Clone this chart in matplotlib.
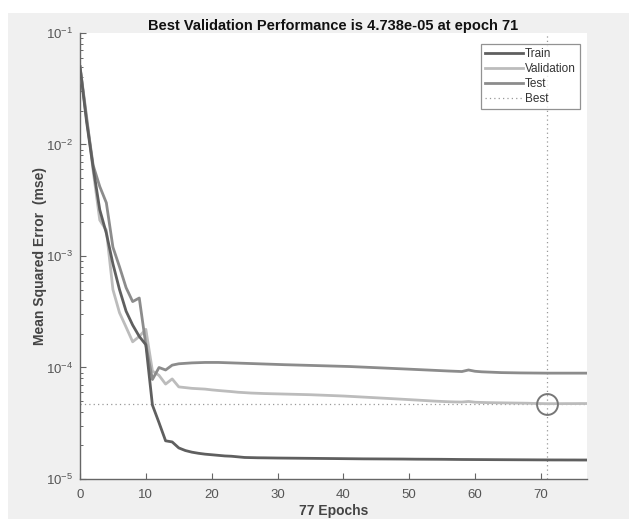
import matplotlib
matplotlib.use("Agg")
import matplotlib.pyplot as plt
from matplotlib.patches import Rectangle
from matplotlib.lines import Line2D

# ---------------- data ----------------
epochs = list(range(78))

train = [0.050, 0.016, 0.0062, 0.0026, 0.0016, 0.00085, 0.0005, 0.00032, 0.00024, 0.00019,
         0.00016, 4.6e-5, 3.2e-5, 2.2e-5, 2.15e-5, 1.9e-5, 1.8e-5, 1.74e-5, 1.7e-5, 1.67e-5,
         1.65e-5, 1.63e-5, 1.61e-5, 1.6e-5, 1.58e-5, 1.56e-5, 1.555e-5, 1.55e-5, 1.548e-5, 1.545e-5,
         1.542e-5, 1.54e-5, 1.538e-5, 1.536e-5, 1.534e-5, 1.532e-5, 1.53e-5, 1.528e-5, 1.526e-5, 1.524e-5,
         1.522e-5, 1.52e-5, 1.518e-5, 1.516e-5, 1.515e-5, 1.514e-5, 1.513e-5, 1.512e-5, 1.511e-5, 1.51e-5,
         1.508e-5, 1.506e-5, 1.505e-5, 1.504e-5, 1.503e-5, 1.502e-5, 1.50e-5, 1.498e-5, 1.496e-5, 1.495e-5,
         1.494e-5, 1.493e-5, 1.492e-5, 1.491e-5, 1.49e-5, 1.489e-5, 1.488e-5, 1.487e-5, 1.486e-5, 1.485e-5,
         1.484e-5, 1.483e-5, 1.482e-5, 1.482e-5, 1.481e-5, 1.481e-5, 1.48e-5, 1.48e-5]

validation = [0.050, 0.018, 0.0058, 0.0021, 0.0017, 0.0005, 0.00031, 0.00023, 0.00017, 0.00019,
              0.00022, 9.3e-5, 8.5e-5, 7.1e-5, 7.9e-5, 6.7e-5, 6.6e-5, 6.5e-5, 6.45e-5, 6.4e-5,
              6.3e-5, 6.22e-5, 6.15e-5, 6.08e-5, 6.0e-5, 5.95e-5, 5.9e-5, 5.87e-5, 5.84e-5, 5.82e-5,
              5.8e-5, 5.78e-5, 5.76e-5, 5.74e-5, 5.72e-5, 5.7e-5, 5.67e-5, 5.64e-5, 5.61e-5, 5.58e-5,
              5.55e-5, 5.51e-5, 5.47e-5, 5.43e-5, 5.39e-5, 5.35e-5, 5.31e-5, 5.27e-5, 5.23e-5, 5.19e-5,
              5.15e-5, 5.11e-5, 5.07e-5, 5.03e-5, 4.99e-5, 4.96e-5, 4.93e-5, 4.91e-5, 4.9e-5, 4.96e-5,
              4.88e-5, 4.86e-5, 4.84e-5, 4.83e-5, 4.82e-5, 4.81e-5, 4.8e-5, 4.79e-5, 4.78e-5, 4.76e-5,
              4.75e-5, 4.738e-5, 4.74e-5, 4.74e-5, 4.745e-5, 4.745e-5, 4.75e-5, 4.75e-5]

test = [0.050, 0.017, 0.0065, 0.0042, 0.0030, 0.0012, 0.0008, 0.00052, 0.00039, 0.00042,
        0.00016, 7.8e-5, 1.0e-4, 9.5e-5, 1.05e-4, 1.08e-4, 1.09e-4, 1.1e-4, 1.105e-4, 1.11e-4,
        1.11e-4, 1.11e-4, 1.105e-4, 1.1e-4, 1.095e-4, 1.09e-4, 1.085e-4, 1.08e-4, 1.075e-4, 1.07e-4,
        1.065e-4, 1.06e-4, 1.056e-4, 1.052e-4, 1.048e-4, 1.044e-4, 1.04e-4, 1.036e-4, 1.032e-4, 1.028e-4,
        1.024e-4, 1.02e-4, 1.014e-4, 1.008e-4, 1.002e-4, 0.996e-4, 0.99e-4, 0.984e-4, 0.978e-4, 0.972e-4,
        0.966e-4, 0.96e-4, 0.954e-4, 0.948e-4, 0.942e-4, 0.936e-4, 0.93e-4, 0.925e-4, 0.92e-4, 0.95e-4,
        0.925e-4, 0.915e-4, 0.91e-4, 0.905e-4, 0.90e-4, 0.898e-4, 0.896e-4, 0.894e-4, 0.893e-4, 0.892e-4,
        0.891e-4, 0.89e-4, 0.89e-4, 0.89e-4, 0.89e-4, 0.89e-4, 0.89e-4, 0.89e-4]

best_epoch = 71
best_perf = 4.738e-05
series_names = ["Train", "Validation", "Test", "Best"]
xticks = [0, 10, 20, 30, 40, 50, 60, 70]
yticks = [1e-5, 1e-4, 1e-3, 1e-2, 1e-1]
ytick_labels = [r"$10^{-5}$", r"$10^{-4}$", r"$10^{-3}$", r"$10^{-2}$", r"$10^{-1}$"]

# ---------------- style ----------------
plt.rcParams['font.family'] = ['Liberation Sans', 'DejaVu Sans']
plt.rcParams['mathtext.fontset'] = 'custom'
plt.rcParams['mathtext.rm'] = 'Liberation Sans'
plt.rcParams['mathtext.it'] = 'Liberation Sans'

W, H = 637, 519
fig = plt.figure(figsize=(W / 100, H / 100), dpi=100, facecolor='white')
# grey MATLAB figure area
fig.patches.append(Rectangle((8 / W, 0), 621 / W, (H - 13) / H, transform=fig.transFigure,
                             facecolor='#f0f0f0', edgecolor='none', zorder=-10))

ax = fig.add_axes([80 / W, 1 - 479 / H, 507 / W, (479 - 33) / H])
ax.set_facecolor('white')

c_train = '#5f5f5f'
c_val = '#bcbcbc'
c_test = '#8c8c8c'
c_best = '#999999'

ax.plot(epochs, train, color=c_train, lw=2.0, zorder=4)
ax.plot(epochs, validation, color=c_val, lw=2.0, zorder=3)
ax.plot(epochs, test, color=c_test, lw=2.0, zorder=3.5)
ax.axhline(best_perf, color=c_best, lw=0.9, ls=(0, (1, 2.5)), zorder=2)
ax.axvline(best_epoch, color=c_best, lw=0.9, ls=(0, (1, 2.5)), zorder=2)
ax.plot([best_epoch], [best_perf], marker='o', ms=15, mfc='none', mec='#777777', mew=1.4, zorder=5)

ax.set_yscale('log')
ax.set_xlim(0, 77)
ax.set_ylim(1e-5, 1e-1)
ax.set_xticks(xticks)
ax.set_xticklabels([str(t) for t in xticks])
ax.set_yticks(yticks)
ax.set_yticklabels(ytick_labels)

for s in ['top', 'right']:
    ax.spines[s].set_visible(False)
for s in ['left', 'bottom']:
    ax.spines[s].set_color('#666666')
    ax.spines[s].set_linewidth(1.0)

ax.tick_params(axis='both', which='major', direction='in', length=4, width=0.8,
               colors='#666666', labelcolor='#555555', labelsize=9.5)
ax.tick_params(axis='x', which='major', pad=7)
ax.tick_params(axis='y', which='major', pad=5)
ax.tick_params(axis='y', which='minor', direction='in', length=2.2, width=0.7, colors='#666666')
ax.tick_params(axis='x', which='minor', bottom=False)

ax.set_title('Best Validation Performance is 4.738e-05 at epoch 71', fontsize=10.5,
             fontweight='bold', color='#111111', pad=2.5)
ax.set_xlabel('77 Epochs', fontsize=10, fontweight='bold', color='#444444', labelpad=2)
ax.set_ylabel('Mean Squared Error  (mse)', fontsize=10, fontweight='bold', color='#444444')
ax.yaxis.set_label_coords(-0.066, 0.5)

handles = [Line2D([], [], color=c_train, lw=2.0),
           Line2D([], [], color=c_val, lw=2.0),
           Line2D([], [], color=c_test, lw=2.0),
           Line2D([], [], color=c_best, lw=0.9, ls=(0, (1, 2.5)))]
leg = ax.legend(handles, series_names, loc='upper left',
                bbox_to_anchor=(481 / W, 1 - 44 / H), bbox_transform=fig.transFigure,
                fontsize=8.5, frameon=True, fancybox=False, borderaxespad=0,
                handlelength=3.2, handletextpad=0.2, labelspacing=0.25,
                borderpad=0.35)
leg.get_frame().set_edgecolor('#777777')
leg.get_frame().set_linewidth(0.9)
for t in leg.get_texts():
    t.set_color('#333333')

fig.savefig('out.png', dpi=100, facecolor='white')
